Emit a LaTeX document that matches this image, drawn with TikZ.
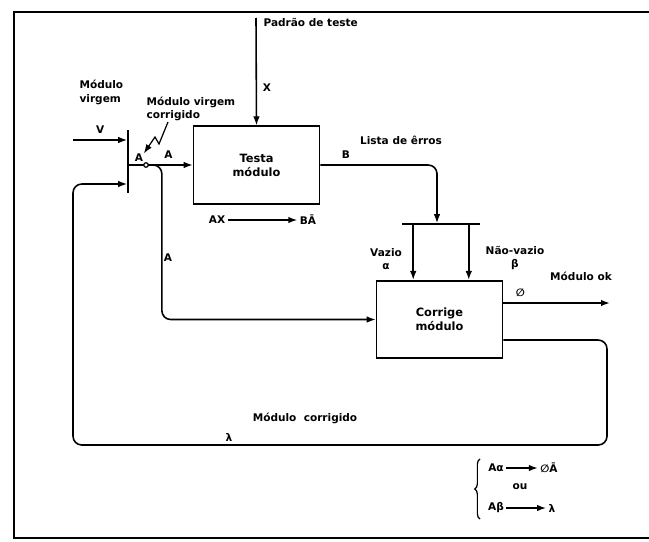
\documentclass[tikz,border=0pt]{standalone}
\usepackage{fontspec}
\setmainfont{DejaVu Sans}
\usetikzlibrary{arrows.meta,positioning,calc,decorations.pathreplacing}

\begin{document}
\begin{tikzpicture}[
    x=0.02cm, y=-0.02cm,
    font=\fontsize{6}{7.5}\selectfont\bfseries,
    line width=0.9pt,
    blockbox/.style={rectangle, draw, minimum width=2.52cm, minimum height=1.55cm,
                     inner sep=0pt, align=center, font=\fontsize{6.5}{8}\selectfont\bfseries},
    vbar/.style={rectangle, draw, inner sep=0pt, minimum width=0pt, minimum height=#1},
    hbar/.style={rectangle, draw, inner sep=0pt, minimum height=0pt, minimum width=#1},
    lbl/.style={inner sep=1pt, align=left},
    arr/.style={-{Latex[length=1.8mm, width=1.3mm]}}
]
\useasboundingbox (0,0) rectangle (649,541);

% frame
\draw[line width=1.1pt] (649,12) -- (14,12) -- (14,538) -- (649,538);

% blocks
\node[blockbox] (testa) at (256.5,165) {Testa\\módulo};
\node[blockbox] (corrige) at (439.5,319.5) {Corrige\\módulo};
\node[vbar=1.26cm] (barL) at (128,161.5) {};
\node[hbar=1.56cm] (barR) at (441,224) {};

% inputs
\coordinate (ptop) at (256,18);
\node[lbl, anchor=west] (padrao) at (261,22) {Padrão de teste};
\draw[arr] (ptop) -- node[right, pos=0.65] {X} (testa.north);

\coordinate (vsrc) at (73,140);
\draw[arr] (vsrc) -- node[above] {V} (vsrc -| barL.west);
\node[lbl, anchor=north west] (mvirgem) at (77,78) {Módulo\\virgem};

\node[lbl, anchor=west] (mvc) at (144,109) {Módulo virgem\\corrigido};
\node[inner sep=0pt] (aleft) at (139,158) {A};
\draw[arr, line width=0.7pt] (168,122) -- (159,144) -- (155,137) -- (aleft.north east);

% A into Testa modulo
\draw[arr] (barL.east |- testa.west) -- node[above, pos=0.62] {A} (testa.west);
\node[circle, draw, fill=white, inner sep=0pt, minimum size=0.09cm, line width=0.7pt] (dot) at (146,165) {};
\draw[arr, rounded corners=5pt] (dot.east) -- ++(13,0) |- (corrige.west);
\node[lbl] (abranch) at (168,258) {A};

% error list
\node[lbl] (lista) at (401,140) {Lista de êrros};
\draw[arr, rounded corners=5pt] (testa.east) -| node[above, pos=0.11] {B} ($(barR.north)+(-4,0)$);
\node[lbl] (axl) at (217,220) {AX};
\node[lbl] (bal) at (308,220) {BĀ};
\draw[arr] (axl) -- (bal);

% empty / non-empty
\coordinate (va) at ($(barR.west)+(12,0)$);
\coordinate (nv) at ($(barR.east)+(-12,0)$);
\draw[arr] (va) -- (va |- corrige.north);
\draw[arr] (nv) -- (nv |- corrige.north);
\node[align=center, inner sep=0pt] (vazio) at (386,259) {Vazio\\α};
\node[align=center, inner sep=0pt] (naovazio) at (515,258) {Não-vazio\\β};

% ok output
\coordinate (okend) at (610,303);
\draw[arr] (corrige.east |- okend) -- node[above, pos=0.16] {∅} (okend);
\node[lbl] (mok) at (581,276) {Módulo ok};

% feedback loop
\coordinate (lc) at ($(corrige.south east)+(0,-19)$);
\coordinate (loopR) at (607,445);
\coordinate (loopL) at (73,184);
\draw[arr, rounded corners=5pt] (lc) -| (loopR) -| (loopL) -- (loopL -| barL.west);
\node[lbl] (mcorr) at (305,418) {Módulo\ \ corrigido};
\node[lbl] (lam) at (229,437) {λ};

% rules
\node[inner sep=1pt] (e1l) at (496,468) {Aα};
\node[inner sep=1pt] (e1r) at (549,468) {∅Ā};
\draw[arr] (e1l) -- (e1r);
\node[inner sep=1pt] (ou) at (520,487) {ou};
\node[inner sep=1pt] (e2l) at (496,508) {Aβ};
\node[inner sep=1pt] (e2r) at (552,508) {λ};
\draw[arr] (e2l) -- (e2r);
\draw[line width=0.7pt, decorate, decoration={brace, amplitude=3pt}] (480,519) -- (480,459);
\end{tikzpicture}
\end{document}
